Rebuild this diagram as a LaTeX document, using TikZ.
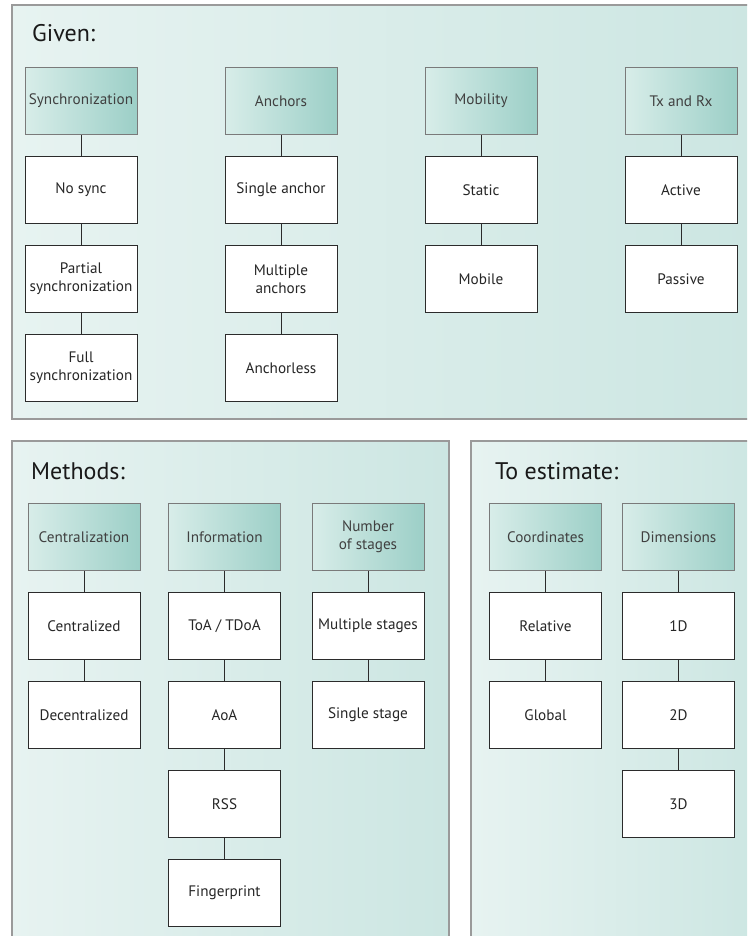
\documentclass[tikz,border=0pt]{standalone}
\usepackage{fontspec}
\setmainfont{PT Sans}
\usetikzlibrary{positioning}
\definecolor{panelleft}{HTML}{E7F3F1}
\definecolor{panelright}{HTML}{CCE6E2}
\definecolor{panelborder}{HTML}{9A9A9A}
\definecolor{headleft}{HTML}{D8EDE9}
\definecolor{headright}{HTML}{9CCFC7}
\definecolor{headborder}{HTML}{7A7A7A}
\definecolor{headtext}{HTML}{404040}
\definecolor{itemborder}{HTML}{2B2B2B}

\begin{document}
\begin{tikzpicture}[
    x=1pt, y=1pt,
    node distance=20.5pt,
    panel/.style={draw=panelborder, line width=1.3pt, left color=panelleft, right color=panelright},
    header/.style={rectangle, draw=headborder, line width=1pt, left color=headleft, right color=headright, minimum width=112pt, minimum height=67.5pt, align=center, inner sep=2pt, text=headtext, font=\fontsize{15.2}{18}\selectfont},
    item/.style={rectangle, draw=itemborder, line width=1pt, fill=white, minimum width=112pt, minimum height=67.5pt, align=center, inner sep=2pt, text=black!85, font=\fontsize{15.2}{18}\selectfont},
    link/.style={draw=itemborder, line width=1pt},
    title/.style={anchor=base west, inner sep=0pt, text=black!90, font=\fontsize{24}{28}\selectfont},
]
\clip (0,0) rectangle (747,-936);

% ============ PANELS ============
\path[panel] (12,-5) rectangle (760,-419);
\path[panel] (12,-441) rectangle (449,-950);
\path[panel] (471,-441) rectangle (760,-950);

\node[title] (given) at (32,-42) {Given:};
\node[title] (methods) at (31,-479) {Methods:};
\node[title] (estimate) at (495,-479) {To estimate:};

% ============ GIVEN ============
\node[header] (sync) at (81,-101) {Synchronization};
\node[item, below=of sync] (nosync) {No sync};
\node[item, below=of nosync] (partial) {Partial\\synchronization};
\node[item, below=of partial] (full) {Full\\synchronization};

\node[header] (anchors) at (281,-101) {Anchors};
\node[item, below=of anchors] (single) {Single anchor};
\node[item, below=of single] (multiple) {Multiple\\anchors};
\node[item, below=of multiple] (anchorless) {Anchorless};

\node[header] (mobility) at (481,-101) {Mobility};
\node[item, below=of mobility] (static) {Static};
\node[item, below=of static] (mobile) {Mobile};

\node[header] (txrx) at (681,-101) {Tx and Rx};
\node[item, below=of txrx] (active) {Active};
\node[item, below=of active] (passive) {Passive};

% ============ METHODS ============
\node[header] (central) at (84,-537) {Centralization};
\node[item, below=of central] (centralized) {Centralized};
\node[item, below=of centralized] (decentralized) {Decentralized};

\node[header] (info) at (224.5,-537) {Information};
\node[item, below=of info] (toa) {ToA / TDoA};
\node[item, below=of toa] (aoa) {AoA};
\node[item, below=of aoa] (rss) {RSS};
\node[item, below=of rss] (finger) {Fingerprint};

\node[header] (stages) at (368,-537) {Number\\of stages};
\node[item, below=of stages] (multistage) {Multiple stages};
\node[item, below=of multistage] (singlestage) {Single stage};

% ============ TO ESTIMATE ============
\node[header] (coords) at (545.5,-537) {Coordinates};
\node[item, below=of coords] (relative) {Relative};
\node[item, below=of relative] (global) {Global};

\node[header] (dims) at (678.5,-537) {Dimensions};
\node[item, below=of dims] (oned) {1D};
\node[item, below=of oned] (twod) {2D};
\node[item, below=of twod] (threed) {3D};

% ============ LINKS ============
\draw[link] (sync) -- (nosync);
\draw[link] (nosync) -- (partial);
\draw[link] (partial) -- (full);
\draw[link] (anchors) -- (single);
\draw[link] (single) -- (multiple);
\draw[link] (multiple) -- (anchorless);
\draw[link] (mobility) -- (static);
\draw[link] (static) -- (mobile);
\draw[link] (txrx) -- (active);
\draw[link] (active) -- (passive);

\draw[link] (central) -- (centralized);
\draw[link] (centralized) -- (decentralized);
\draw[link] (info) -- (toa);
\draw[link] (toa) -- (aoa);
\draw[link] (aoa) -- (rss);
\draw[link] (rss) -- (finger);
\draw[link] (stages) -- (multistage);
\draw[link] (multistage) -- (singlestage);

\draw[link] (coords) -- (relative);
\draw[link] (relative) -- (global);
\draw[link] (dims) -- (oned);
\draw[link] (oned) -- (twod);
\draw[link] (twod) -- (threed);

\end{tikzpicture}
\end{document}
